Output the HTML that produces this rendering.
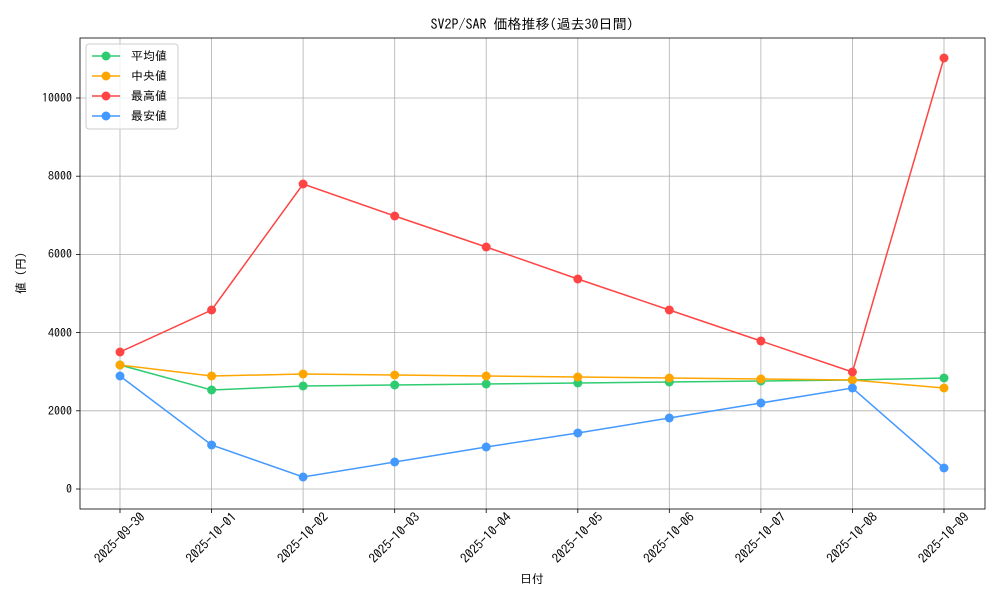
<!DOCTYPE html>
<html><head><meta charset="utf-8"><style>
html,body{margin:0;padding:0;background:#fff;}
svg{display:block;font-family:"IPAGothic","Liberation Mono","Noto Sans CJK JP",monospace;}
</style></head><body>
<svg width="1000" height="600" viewBox="0 0 1000 600" xmlns="http://www.w3.org/2000/svg">
<rect width="1000" height="600" fill="#fff"/>
<g stroke="#b0b0b0" stroke-width="0.8">
<line x1="120" y1="38" x2="120" y2="509"/><line x1="211.6" y1="38" x2="211.6" y2="509"/><line x1="303.1" y1="38" x2="303.1" y2="509"/><line x1="394.7" y1="38" x2="394.7" y2="509"/><line x1="486.2" y1="38" x2="486.2" y2="509"/><line x1="577.8" y1="38" x2="577.8" y2="509"/><line x1="669.3" y1="38" x2="669.3" y2="509"/><line x1="760.9" y1="38" x2="760.9" y2="509"/><line x1="852.4" y1="38" x2="852.4" y2="509"/><line x1="944" y1="38" x2="944" y2="509"/>
<line x1="80" y1="489" x2="985" y2="489"/><line x1="80" y1="410.8" x2="985" y2="410.8"/><line x1="80" y1="332.6" x2="985" y2="332.6"/><line x1="80" y1="254.4" x2="985" y2="254.4"/><line x1="80" y1="176.2" x2="985" y2="176.2"/><line x1="80" y1="98" x2="985" y2="98"/>
</g>
<rect x="80" y="38" width="905" height="471" fill="none" stroke="#000" stroke-width="0.8"/>
<g stroke="#000" stroke-width="0.8">
<line x1="120" y1="509" x2="120" y2="513"/><line x1="211.6" y1="509" x2="211.6" y2="513"/><line x1="303.1" y1="509" x2="303.1" y2="513"/><line x1="394.7" y1="509" x2="394.7" y2="513"/><line x1="486.2" y1="509" x2="486.2" y2="513"/><line x1="577.8" y1="509" x2="577.8" y2="513"/><line x1="669.3" y1="509" x2="669.3" y2="513"/><line x1="760.9" y1="509" x2="760.9" y2="513"/><line x1="852.4" y1="509" x2="852.4" y2="513"/><line x1="944" y1="509" x2="944" y2="513"/>
<line x1="76" y1="489" x2="80" y2="489"/><line x1="76" y1="410.8" x2="80" y2="410.8"/><line x1="76" y1="332.6" x2="80" y2="332.6"/><line x1="76" y1="254.4" x2="80" y2="254.4"/><line x1="76" y1="176.2" x2="80" y2="176.2"/><line x1="76" y1="98" x2="80" y2="98"/>
</g>
<g font-size="12" text-anchor="end" fill="#000">
<text x="72" y="493">0</text><text x="72" y="415">2000</text><text x="72" y="337">4000</text><text x="72" y="258">6000</text><text x="72" y="180">8000</text><text x="72" y="102">10000</text>
</g>
<g font-size="13" text-anchor="middle" fill="#000">
<text transform="translate(120,538) rotate(-45)" dy="4">2025-09-30</text>
<text transform="translate(211.6,538) rotate(-45)" dy="4">2025-10-01</text>
<text transform="translate(303.1,538) rotate(-45)" dy="4">2025-10-02</text>
<text transform="translate(394.7,538) rotate(-45)" dy="4">2025-10-03</text>
<text transform="translate(486.2,538) rotate(-45)" dy="4">2025-10-04</text>
<text transform="translate(577.8,538) rotate(-45)" dy="4">2025-10-05</text>
<text transform="translate(669.3,538) rotate(-45)" dy="4">2025-10-06</text>
<text transform="translate(760.9,538) rotate(-45)" dy="4">2025-10-07</text>
<text transform="translate(852.4,538) rotate(-45)" dy="4">2025-10-08</text>
<text transform="translate(944,538) rotate(-45)" dy="4">2025-10-09</text>
</g>
<text x="532" y="583" font-size="12" text-anchor="middle">日付</text>
<text transform="translate(25,273) rotate(-90)" font-size="12" text-anchor="middle">値 (円)</text>
<text x="532" y="29" font-size="14" text-anchor="middle">SV2P/SAR 価格推移(過去30日間)</text>
<g fill="none" stroke-width="1.5">
<polyline stroke="#2ecc71" points="120,365 211.6,390 303.1,386 394.7,385 486.2,384 577.8,383 669.3,382 760.9,381 852.4,380 944,378"/>
<polyline stroke="#ffa500" points="120,365 211.6,376 303.1,374 394.7,375 486.2,376 577.8,377 669.3,378 760.9,379 852.4,380 944,388"/>
<polyline stroke="#ff4444" points="120,352 211.6,310 303.1,184 394.7,216 486.2,247 577.8,279 669.3,310 760.9,341 852.4,372 944,58"/>
<polyline stroke="#4499ff" points="120,376 211.6,445 303.1,477 394.7,462 486.2,447 577.8,433 669.3,418 760.9,403 852.4,388 944,468"/>
</g>
<g fill="#2ecc71"><circle cx="120" cy="365" r="4.5"/><circle cx="211.6" cy="390" r="4.5"/><circle cx="303.1" cy="386" r="4.5"/><circle cx="394.7" cy="385" r="4.5"/><circle cx="486.2" cy="384" r="4.5"/><circle cx="577.8" cy="383" r="4.5"/><circle cx="669.3" cy="382" r="4.5"/><circle cx="760.9" cy="381" r="4.5"/><circle cx="852.4" cy="380" r="4.5"/><circle cx="944" cy="378" r="4.5"/></g>
<g fill="#ffa500"><circle cx="120" cy="365" r="4.5"/><circle cx="211.6" cy="376" r="4.5"/><circle cx="303.1" cy="374" r="4.5"/><circle cx="394.7" cy="375" r="4.5"/><circle cx="486.2" cy="376" r="4.5"/><circle cx="577.8" cy="377" r="4.5"/><circle cx="669.3" cy="378" r="4.5"/><circle cx="760.9" cy="379" r="4.5"/><circle cx="852.4" cy="380" r="4.5"/><circle cx="944" cy="388" r="4.5"/></g>
<g fill="#ff4444"><circle cx="120" cy="352" r="4.5"/><circle cx="211.6" cy="310" r="4.5"/><circle cx="303.1" cy="184" r="4.5"/><circle cx="394.7" cy="216" r="4.5"/><circle cx="486.2" cy="247" r="4.5"/><circle cx="577.8" cy="279" r="4.5"/><circle cx="669.3" cy="310" r="4.5"/><circle cx="760.9" cy="341" r="4.5"/><circle cx="852.4" cy="372" r="4.5"/><circle cx="944" cy="58" r="4.5"/></g>
<g fill="#4499ff"><circle cx="120" cy="376" r="4.5"/><circle cx="211.6" cy="445" r="4.5"/><circle cx="303.1" cy="477" r="4.5"/><circle cx="394.7" cy="462" r="4.5"/><circle cx="486.2" cy="447" r="4.5"/><circle cx="577.8" cy="433" r="4.5"/><circle cx="669.3" cy="418" r="4.5"/><circle cx="760.9" cy="403" r="4.5"/><circle cx="852.4" cy="388" r="4.5"/><circle cx="944" cy="468" r="4.5"/></g>
<rect x="86" y="44" width="92" height="85" rx="3" fill="#fff" fill-opacity="0.8" stroke="#ccc"/>
<g stroke-width="1.5">
<line x1="92" y1="56" x2="120" y2="56" stroke="#2ecc71"/><circle cx="106" cy="56" r="4.5" fill="#2ecc71"/>
<line x1="92" y1="76" x2="120" y2="76" stroke="#ffa500"/><circle cx="106" cy="76" r="4.5" fill="#ffa500"/>
<line x1="92" y1="96" x2="120" y2="96" stroke="#ff4444"/><circle cx="106" cy="96" r="4.5" fill="#ff4444"/>
<line x1="92" y1="116" x2="120" y2="116" stroke="#4499ff"/><circle cx="106" cy="116" r="4.5" fill="#4499ff"/>
</g>
<g font-size="12"><text x="131" y="60">平均値</text><text x="131" y="80">中央値</text><text x="131" y="100">最高値</text><text x="131" y="120">最安値</text></g>
</svg>
</body></html>
